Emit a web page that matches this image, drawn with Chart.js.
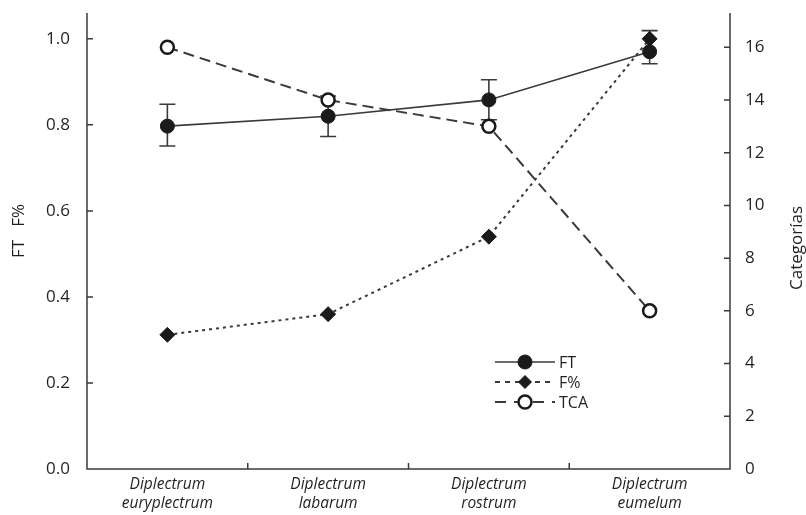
<!DOCTYPE html>
<html lang="en">
<head>
  <meta charset="UTF-8" />
  <title>Diplectrum FT / F% / TCA</title>
  <script src="https://cdn.jsdelivr.net/npm/chart.js"></script>
  <style>
    html, body { margin: 0; padding: 0; background: #fff; }
    #wrap { width: 806px; height: 515px; position: relative; overflow: hidden; }
  </style>
</head>
<body>
  <div id="wrap"><canvas id="chart"></canvas></div>

  <script>
    // data
    const categories = [
      ['Diplectrum', 'euryplectrum'],
      ['Diplectrum', 'labarum'],
      ['Diplectrum', 'rostrum'],
      ['Diplectrum', 'eumelum']
    ];
    const ftValues = [0.797, 0.820, 0.858, 0.970];
    const ftLow = [0.751, 0.773, 0.812, 0.942];
    const ftHigh = [0.848, 0.867, 0.905, 1.019];
    const fPctValues = [0.312, 0.360, 0.540, 1.000];
    const tcaValues = [16, 14, 13, 6];

    const leftTitle = 'FT   F%';
    const rightTitle = 'Categorías';
    const ink = '#231f20';
    const lineInk = '#3a3a3a';
    const font = "'Open Sans', 'DejaVu Sans', sans-serif";

    // error bars for FT, drawn under the markers
    const errorBars = {
      id: 'errorBars',
      beforeDatasetsDraw(chart) {
        const ctx = chart.ctx;
        const x = chart.scales.x, y = chart.scales.y;
        ctx.save();
        ctx.strokeStyle = lineInk;
        ctx.lineWidth = 1.6;
        ftValues.forEach((v, i) => {
          const px = x.getPixelForValue(i);
          const lo = y.getPixelForValue(ftLow[i]);
          const hi = y.getPixelForValue(ftHigh[i]);
          ctx.beginPath();
          ctx.moveTo(px, lo); ctx.lineTo(px, hi);
          ctx.moveTo(px - 8, lo); ctx.lineTo(px + 8, lo);
          ctx.moveTo(px - 8, hi); ctx.lineTo(px + 8, hi);
          ctx.stroke();
        });
        ctx.restore();
      }
    };

    // axes lines, inward tick marks, titles and the legend box
    const frame = {
      id: 'frame',
      afterDraw(chart) {
        const ctx = chart.ctx;
        const a = chart.chartArea;
        const x = chart.scales.x, y = chart.scales.y, y2 = chart.scales.y2;
        ctx.save();
        ctx.strokeStyle = lineInk;
        ctx.lineWidth = 1.5;
        ctx.beginPath();
        ctx.moveTo(a.left, a.top); ctx.lineTo(a.left, a.bottom);
        ctx.lineTo(a.right, a.bottom); ctx.lineTo(a.right, a.top);
        y.ticks.forEach(t => {
          const py = y.getPixelForValue(t.value);
          ctx.moveTo(a.left, py); ctx.lineTo(a.left + 6, py);
        });
        y2.ticks.forEach(t => {
          const py = y2.getPixelForValue(t.value);
          ctx.moveTo(a.right, py); ctx.lineTo(a.right - 6, py);
        });
        for (let i = 0; i < categories.length - 1; i++) {
          const px = (x.getPixelForValue(i) + x.getPixelForValue(i + 1)) / 2;
          ctx.moveTo(px, a.bottom); ctx.lineTo(px, a.bottom - 6);
        }
        ctx.stroke();

        ctx.fillStyle = ink;
        ctx.font = '17px ' + font;
        ctx.textAlign = 'center';
        ctx.textBaseline = 'middle';
        ctx.save();
        ctx.translate(19, 231);
        ctx.rotate(-Math.PI / 2);
        ctx.fillText(leftTitle, 0, 0);
        ctx.restore();
        ctx.save();
        ctx.translate(797, 248);
        ctx.rotate(-Math.PI / 2);
        ctx.fillText(rightTitle, 0, 0);
        ctx.restore();

        // legend
        const lx = 495, lw = 60;
        ctx.font = '16px ' + font;
        chart.data.datasets.forEach((ds, i) => {
          const ly = 362 + i * 20;
          const cx = lx + lw / 2;
          ctx.save();
          ctx.strokeStyle = ds.borderColor;
          ctx.lineWidth = ds.borderWidth;
          ctx.setLineDash(ds.legendDash || []);
          ctx.beginPath();
          ctx.moveTo(lx, ly); ctx.lineTo(lx + lw, ly);
          ctx.stroke();
          ctx.restore();
          ctx.save();
          ctx.setLineDash([]);
          ctx.fillStyle = ds.pointBackgroundColor;
          ctx.strokeStyle = ds.pointBorderColor;
          ctx.lineWidth = ds.pointBorderWidth;
          ctx.beginPath();
          if (ds.pointStyle === 'rectRot') {
            const r = 6.5;
            ctx.moveTo(cx, ly - r); ctx.lineTo(cx + r, ly);
            ctx.lineTo(cx, ly + r); ctx.lineTo(cx - r, ly);
            ctx.closePath();
          } else {
            ctx.arc(cx, ly, ds.pointRadius, 0, Math.PI * 2);
          }
          ctx.fill();
          ctx.stroke();
          ctx.restore();
          ctx.fillStyle = ink;
          ctx.textAlign = 'left';
          ctx.fillText(ds.label, lx + lw + 4, ly + 1);
        });
        ctx.restore();
      }
    };

    new Chart(document.getElementById('chart'), {
      type: 'line',
      data: {
        labels: categories,
        datasets: [
          {
            label: 'FT',
            data: ftValues,
            yAxisID: 'y',
            borderColor: lineInk,
            borderWidth: 1.6,
            legendDash: [],
            pointStyle: 'circle',
            pointRadius: 7,
            pointBackgroundColor: '#1a1a1a',
            pointBorderColor: '#1a1a1a',
            pointBorderWidth: 1
          },
          {
            label: 'F%',
            data: fPctValues,
            yAxisID: 'y',
            borderColor: lineInk,
            borderWidth: 2,
            borderDash: [3, 4],
            legendDash: [5, 5],
            pointStyle: 'rectRot',
            pointRadius: 7.5,
            pointBackgroundColor: '#1a1a1a',
            pointBorderColor: '#1a1a1a',
            pointBorderWidth: 1
          },
          {
            label: 'TCA',
            data: tcaValues,
            yAxisID: 'y2',
            borderColor: lineInk,
            borderWidth: 2,
            borderDash: [11, 6],
            legendDash: [11, 8],
            pointStyle: 'circle',
            pointRadius: 6.5,
            pointBackgroundColor: '#ffffff',
            pointBorderColor: '#1a1a1a',
            pointBorderWidth: 2.5
          }
        ]
      },
      options: {
        responsive: true,
        maintainAspectRatio: false,
        animation: false,
        layout: { padding: { top: 13, left: 0, right: 0, bottom: 0 } },
        plugins: {
          legend: { display: false },
          tooltip: { enabled: false }
        },
        scales: {
          x: {
            type: 'category',
            offset: true,
            grid: { display: false, drawTicks: false },
            border: { display: false },
            ticks: {
              color: ink,
              padding: 6,
              maxRotation: 0,
              font: { family: font, size: 15.5, style: 'italic', lineHeight: 1.25 }
            },
            afterFit(s) { s.height = 46; s.paddingLeft = 0; s.paddingRight = 0; }
          },
          y: {
            position: 'left',
            min: 0,
            max: 1.06,
            grid: { display: false, drawTicks: false },
            border: { display: false },
            ticks: {
              stepSize: 0.2,
              includeBounds: false,
              padding: 17,
              color: ink,
              font: { family: font, size: 17 },
              callback: v => v.toFixed(1)
            },
            afterFit(s) { s.width = 87; s.paddingTop = 0; s.paddingBottom = 0; }
          },
          y2: {
            position: 'right',
            min: 0,
            max: 17.3,
            grid: { display: false, drawTicks: false },
            border: { display: false },
            ticks: {
              stepSize: 2,
              includeBounds: false,
              padding: 15,
              color: ink,
              font: { family: font, size: 17 }
            },
            afterFit(s) { s.width = 76; s.paddingTop = 0; s.paddingBottom = 0; }
          }
        }
      },
      plugins: [errorBars, frame]
    });
  </script>
</body>
</html>
